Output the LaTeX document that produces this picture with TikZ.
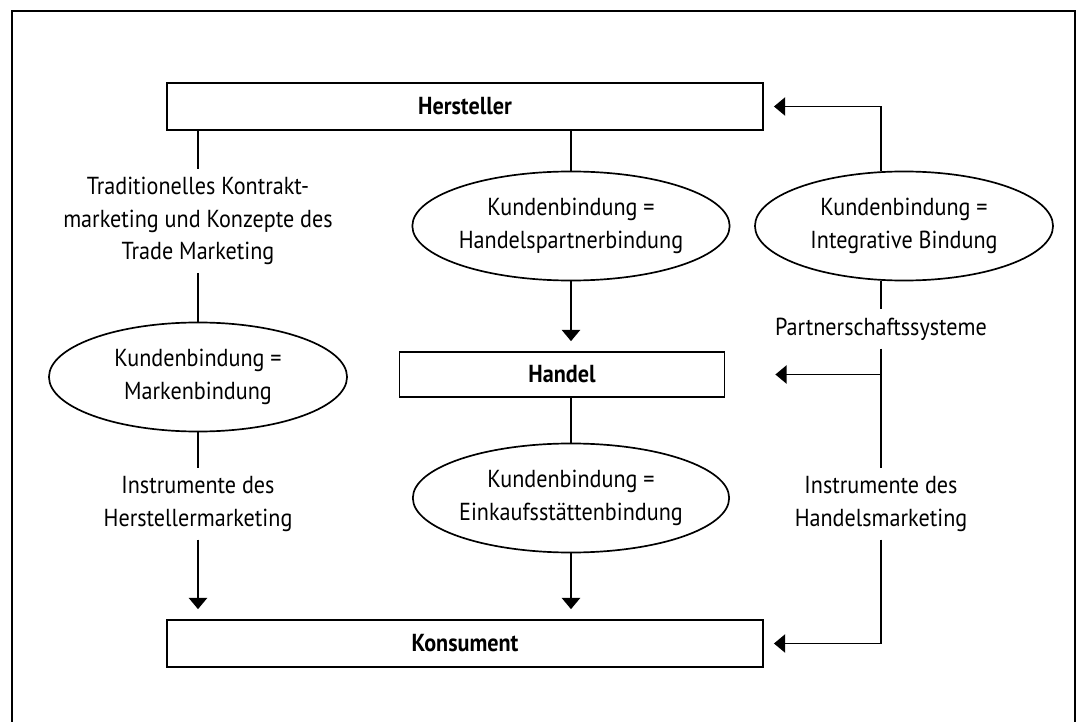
\documentclass[tikz,border=0pt]{standalone}
\usepackage{fontspec}
\setmainfont{PT Sans}[FakeStretch=0.9]
\usetikzlibrary{shapes.geometric,arrows.meta}

\tikzset{
  kasten/.style={draw, line width=1.2pt, minimum width=14.9cm, minimum height=1.175cm, font=\bfseries},
  kleinkasten/.style={kasten, minimum width=8.125cm, minimum height=1.125cm},
  oval/.style={draw, ellipse, line width=1.2pt, minimum width=7.45cm, minimum height=2.725cm, align=center, inner sep=0pt},
  beschr/.style={align=center, inner sep=0.2cm},
  linie/.style={line width=1.2pt},
  pfeil/.style={line width=1.2pt, -{Triangle[length=8pt,width=13pt]}, shorten >=0.25cm},
}

\begin{document}
\begin{tikzpicture}[x=0.025cm, y=-0.025cm]
\fontsize{17.5}{23}\selectfont
\useasboundingbox (0,0) rectangle (1080,722);
\draw[line width=1.4pt] (12,722) -- (12,11) -- (1075,11) -- (1075,722);

\node[kasten] (hersteller) at (465,106.5) {Hersteller};
\node[kleinkasten] (handel) at (562,374.5) {Handel};
\node[kasten] (konsument) at (465,643.5) {Konsument};

\node[beschr] (tradmark) at (198,221) {Traditionelles Kontrakt-\\marketing und Konzepte des\\Trade Marketing};
\node[oval] (markenbindung) at (198,377) {Kundenbindung =\\Markenbindung};
\node[beschr] (instrher) at (198,504) {Instrumente des\\Herstellermarketing};

\node[oval] (partnerbindung) at (571,226) {Kundenbindung =\\Handelspartnerbindung};
\node[oval] (einkauf) at (571,498) {Kundenbindung =\\Einkaufsstättenbindung};

\node[oval] (integrativ) at (904,226) {Kundenbindung =\\Integrative Bindung};
\node[beschr] (partnersys) at (881,329) {Partnerschaftssysteme};
\node[beschr] (instrhan) at (881,504) {Instrumente des\\Handelsmarketing};

% linke Spalte
\draw[linie] (tradmark.north |- hersteller.south) -- (tradmark.north);
\draw[linie] (tradmark) -- (markenbindung);
\draw[linie] (markenbindung) -- (instrher);
\draw[pfeil] (instrher.south) -- (instrher.south |- konsument.north);

% mittlere Spalte
\draw[linie] (partnerbindung.north |- hersteller.south) -- (partnerbindung.north);
\draw[pfeil] (partnerbindung.south) -- (partnerbindung.south |- handel.north);
\draw[linie] (einkauf.north |- handel.south) -- (einkauf.north);
\draw[pfeil] (einkauf.south) -- (einkauf.south |- konsument.north);

% rechte Spalte
\draw[pfeil] (partnersys.north |- integrativ.north) |- (hersteller.east);
\draw[linie] (partnersys.north |- integrativ.south) -- (partnersys.north);
\draw[linie] (partnersys) -- (instrhan);
\draw[pfeil, shorten >=1.25cm] (partnersys.south |- handel.east) -- (handel.east);
\draw[pfeil] (instrhan.south) |- (konsument.east);
\end{tikzpicture}
\end{document}
